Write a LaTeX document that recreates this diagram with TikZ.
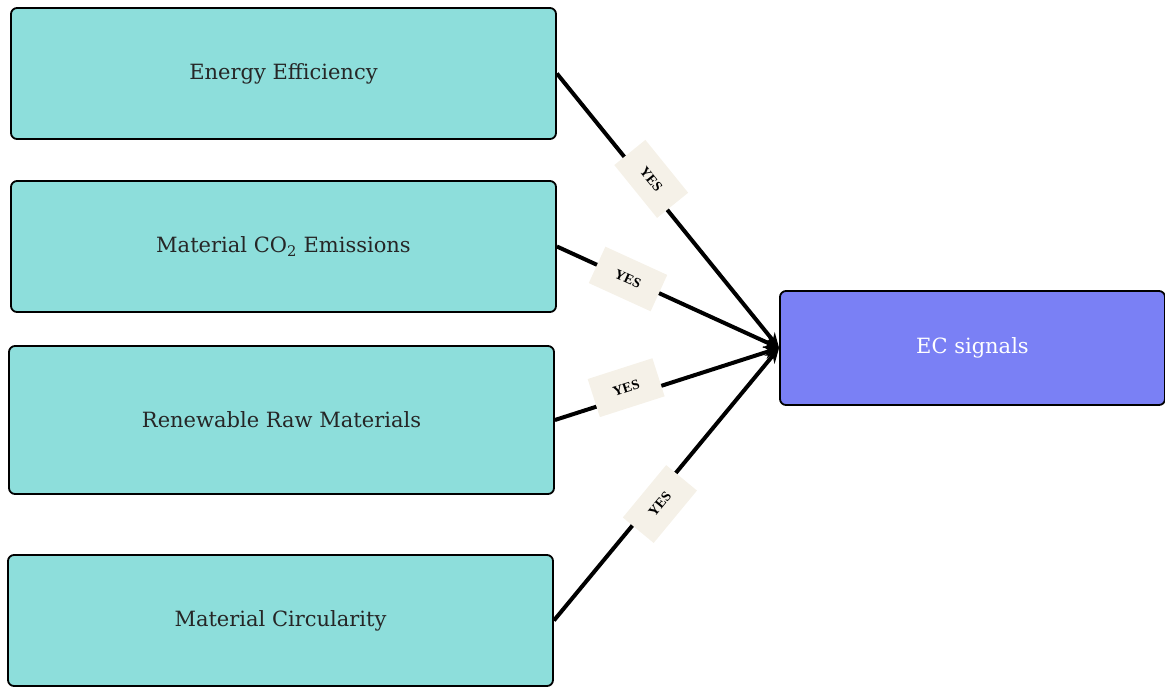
\documentclass[tikz,border=0pt]{standalone}
\usepackage{fontspec}
\setmainfont{DejaVu Serif}
\newfontfamily\tagfont{Liberation Serif}
\usetikzlibrary{arrows.meta}
\definecolor{tealfill}{HTML}{8DDEDB}
\definecolor{ecfill}{HTML}{7A80F5}
\definecolor{tagfill}{HTML}{F5F1E8}
\begin{document}
\begin{tikzpicture}[x=1pt,y=-1pt,
  inbox/.style={draw=black, line width=1.8pt, rounded corners=6pt, fill=tealfill,
    text=black!85, font=\fontsize{21}{25}\selectfont,
    minimum width=545pt, inner sep=0pt},
  outbox/.style={draw=black, line width=1.8pt, rounded corners=6pt, fill=ecfill,
    text=white, font=\fontsize{21}{25}\selectfont,
    minimum width=385pt, minimum height=114pt, inner sep=0pt},
  conn/.style={line width=4pt, -{Stealth[length=15pt,width=13pt]}},
  tag/.style={sloped, fill=tagfill, minimum width=68pt, minimum height=40pt,
    inner sep=0pt, font=\tagfont\bfseries\fontsize{14}{16}\selectfont, text=black}]
\useasboundingbox (0,0) rectangle (1165,686);

% input boxes
\node[inbox, minimum height=131pt] (ee)  at (283.5,73.5)  {Energy Efficiency};
\node[inbox, minimum height=131pt] (co2) at (283.5,246.5) {Material CO\textsubscript{2} Emissions};
\node[inbox, minimum height=148pt] (rrm) at (281.5,420)   {Renewable Raw Materials};
\node[inbox, minimum height=131pt] (mc)  at (280.5,620.5) {Material Circularity};

% output box
\node[outbox] (ec) at (972.5,348) {EC signals};

% connectors
\draw[conn] (ee.east)  -- node[tag, pos=0.40, yshift=7pt]    {YES} (ec.west);
\draw[conn] (co2.east) -- node[tag, pos=0.32]                {YES} (ec.west);
\draw[conn] (rrm.east) -- node[tag, pos=0.33, yshift=9pt]    {YES} (ec.west);
\draw[conn] (mc.east)  -- node[tag, pos=0.445, yshift=-7.5pt] {YES} (ec.west);
\end{tikzpicture}
\end{document}
